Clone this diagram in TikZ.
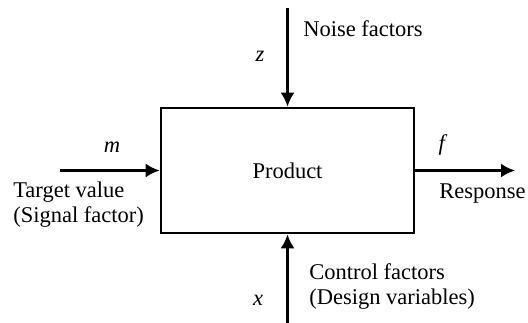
\documentclass[tikz,border=0pt]{standalone}
\usepackage{fontspec}
\setmainfont{Liberation Serif}
\usetikzlibrary{arrows.meta}
\tikzset{>={Latex[length=14pt,width=14pt]}}
\tikzset{label text/.style={inner sep=0pt, align=left}}

\begin{document}
\begin{tikzpicture}[x=1pt, y=-1pt, line width=2.6pt, font=\fontsize{22.5}{25}\selectfont]
    \useasboundingbox (0, 0)rectangle(528, 323);
    \node[draw, minimum width=253pt, minimum height=125pt, inner sep=0pt](product) at (287.5, 170.5) {Product};
    \coordinate (noise) at (287.5, 8);
    \coordinate (control) at (287.5, 323);
    \coordinate (target) at (60, 170.5);
    \coordinate (response) at (515, 170.5);
    \draw[->](noise)--(product.north);
    \draw[->](control)--(product.south);
    \draw[->](target)--(product.west);
    \draw[->](product.east)--(response);
    \node[label text, anchor=base west](noiselabel) at (302, 37) {Noise factors};
    \node[label text](zlabel) at (260, 56) {\textit{z}};
    \node[label text](mlabel) at (112, 147) {\textit{m}};
    \node[label text](flabel) at (443, 145) {\textit{f}};
    \node[label text](xlabel) at (258, 300) {\textit{x}};
    \node[label text, anchor=west](targetlabel) at (12, 205) {Target value\\(Signal factor)};
    \node[label text, anchor=base west](responselabel) at (438, 199) {Response};
    \node[label text, anchor=west](controllabel) at (308, 287) {Control factors\\(Design variables)};
\end{tikzpicture}
\end{document}
